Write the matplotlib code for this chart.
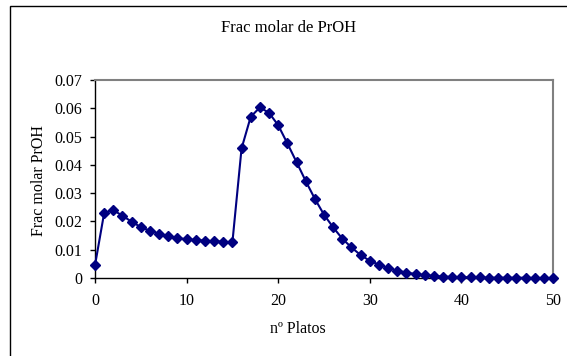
import matplotlib
matplotlib.use("Agg")
import matplotlib.pyplot as plt
from matplotlib.patches import Rectangle

plates = list(range(0, 51))
frac_proh = [0.0045, 0.0230, 0.0240, 0.0220, 0.0199, 0.0180, 0.0167, 0.0157, 0.0148, 0.0141,
             0.0137, 0.0134, 0.0132, 0.0130, 0.0128, 0.0126, 0.0458, 0.0570, 0.0603, 0.0584,
             0.0540, 0.0476, 0.0410, 0.0343, 0.0280, 0.0224, 0.0179, 0.0139, 0.0108, 0.0081,
             0.0061, 0.0047, 0.0035, 0.0026, 0.0019, 0.0014, 0.0010, 0.0007, 0.0005, 0.0004,
             0.0003, 0.0002, 0.0002, 0.0001, 0.0001, 0.0001, 0.0001, 0.0001, 0.0000, 0.0000,
             0.0000]
x_ticks = [0, 10, 20, 30, 40, 50]
y_ticks = [0, 0.01, 0.02, 0.03, 0.04, 0.05, 0.06, 0.07]
y_ticklabels = ["0", "0.01", "0.02", "0.03", "0.04", "0.05", "0.06", "0.07"]
title = "Frac molar de PrOH"
xlabel = "nº Platos"
ylabel = "Frac molar PrOH"

plt.rcParams['font.family'] = ['Liberation Serif', 'DejaVu Serif']
W, H = 567, 356
fig = plt.figure(figsize=(W / 100, H / 100), dpi=100)
fig.patch.set_facecolor('white')

# outer chart border
fig.patches.append(Rectangle((9.5 / W, -0.2), 1.5, 1.2 - 5.5 / H, transform=fig.transFigure,
                             fill=False, edgecolor='black', linewidth=1.0))

ax = fig.add_axes([95 / W, 1 - 278 / H, (553 - 95) / W, (278 - 80) / H])
ax.plot(plates, frac_proh, color='#000080', linewidth=1.5, marker='D', markersize=5,
        markerfacecolor='#000080', markeredgecolor='#000080', clip_on=False, zorder=3)
ax.set_xlim(0, 50)
ax.set_ylim(0, 0.07)
ax.set_xticks(x_ticks)
ax.set_yticks(y_ticks)
ax.set_yticklabels(y_ticklabels)
ax.tick_params(axis='both', direction='out', length=3.5, width=1, labelsize=11.5,
               colors='black')
ax.tick_params(axis='y', pad=5.5)
ax.tick_params(axis='x', pad=7.5)
for s in ['left', 'bottom']:
    ax.spines[s].set_color('black')
    ax.spines[s].set_linewidth(1.0)
for s in ['top', 'right']:
    ax.spines[s].set_color('#808080')
    ax.spines[s].set_linewidth(1.5)

fig.text(289 / W, 1 - 28 / H, title, ha='center', va='center', fontsize=12)
fig.text(298 / W, 1 - 329 / H, xlabel, ha='center', va='center', fontsize=11.5)
fig.text(39 / W, 1 - 180 / H, ylabel, ha='center', va='center', rotation=90, fontsize=11.5)

fig.savefig('out.png', dpi=100)
